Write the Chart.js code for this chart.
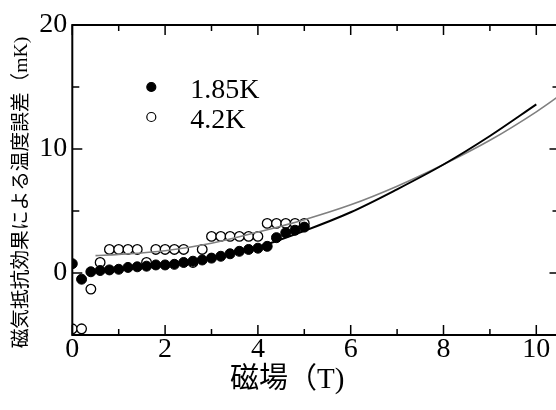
<!DOCTYPE html>
<html>
<head>
<meta charset="utf-8">
<script src="https://cdn.jsdelivr.net/npm/chart.js@4.4.0/dist/chart.umd.min.js"></script>
<style>
  html, body { margin: 0; padding: 0; background: #fff; overflow: hidden; }
  #wrap { width: 570px; height: 410px; }
</style>
</head>
<body>
<div id="wrap"><canvas id="chart" width="570" height="410"></canvas></div>
<script>
// measured points (field in T, error in mK)
const fieldT = [0, 0.2, 0.4, 0.6, 0.8, 1.0, 1.2, 1.4, 1.6, 1.8, 2.0, 2.2, 2.4,
                2.6, 2.8, 3.0, 3.2, 3.4, 3.6, 3.8, 4.0, 4.2, 4.4, 4.6, 4.8, 5.0];
const err185 = [0.75, -0.5, 0.1, 0.2, 0.25, 0.3, 0.45, 0.5, 0.55, 0.65, 0.65, 0.7, 0.85,
                0.95, 1.05, 1.2, 1.35, 1.55, 1.75, 1.9, 2.0, 2.15, 2.85, 3.25, 3.45, 3.7];
const err42 = [-4.5, -4.5, -1.3, 0.85, 1.9, 1.9, 1.9, 1.9, 0.85, 1.9, 1.9, 1.9, 1.9,
               0.85, 1.9, 2.95, 2.95, 2.95, 2.95, 2.95, 2.95, 4.0, 4.0, 4.0, 4.0, 4.0];

// fitted curves
const fitT185 = [0.3, 1, 2, 3, 4, 5, 6, 7, 8, 9, 10];
const fit185 = [0, 0.25, 0.65, 1.25, 2.1, 3.4, 4.9, 6.75, 8.75, 11.05, 13.6];
const fitT42 = [0.5, 1, 2, 3, 4, 5, 6, 7, 8, 9, 10, 10.5];
const fit42 = [1.4, 1.5, 1.8, 2.4, 3.3, 4.3, 5.5, 7.0, 8.75, 10.7, 13.0, 14.3];

const xTicks = [0, 2, 4, 6, 8, 10];
const yTicks = [0, 10, 20];
const xTitle = '磁場（T)';
const yTitle = '磁気抵抗効果による温度誤差（mK)';

const serif = '"Liberation Serif", "Times New Roman", "Noto Sans CJK JP", serif';

const toXY = (xs, ys) => xs.map((x, i) => ({ x: x, y: ys[i] }));

// frame with inward ticks on all four sides, plus axis titles
const frameTicks = {
    id: 'frameTicks',
    afterDatasetsDraw(chart) {
        const { ctx, chartArea: a, scales: { x, y } } = chart;
        ctx.save();
        ctx.strokeStyle = '#000';
        ctx.lineWidth = 2;
        ctx.strokeRect(a.left, a.top, a.right - a.left, a.bottom - a.top);
        ctx.lineWidth = 1.5;
        ctx.beginPath();
        for (let v = 0; v <= 10; v++) {
            const px = x.getPixelForValue(v);
            const len = xTicks.includes(v) ? 10 : 6;
            ctx.moveTo(px, a.bottom); ctx.lineTo(px, a.bottom - len);
            ctx.moveTo(px, a.top); ctx.lineTo(px, a.top + len);
        }
        for (let v = -5; v <= 20; v += 5) {
            const py = y.getPixelForValue(v);
            const len = yTicks.includes(v) ? 10 : 7;
            ctx.moveTo(a.left, py); ctx.lineTo(a.left + len, py);
            ctx.moveTo(a.right, py); ctx.lineTo(a.right - len, py);
        }
        ctx.stroke();

        ctx.fillStyle = '#000';
        ctx.textAlign = 'center';
        ctx.textBaseline = 'middle';
        ctx.font = '29px ' + serif;
        ctx.fillText(xTitle, a.left + 215, 380);
        ctx.translate(22, a.top + 167.5);
        ctx.rotate(-Math.PI / 2);
        ctx.font = '19.7px ' + serif;
        ctx.fillText(yTitle, 0, 0);
        ctx.restore();
    }
};

// legend drawn inside the plot
const innerLegend = {
    id: 'innerLegend',
    afterDraw(chart) {
        const { ctx, chartArea: a } = chart;
        const items = [chart.data.datasets[2], chart.data.datasets[3]];
        ctx.save();
        ctx.font = '28px ' + serif;
        ctx.textBaseline = 'alphabetic';
        items.forEach((ds, i) => {
            const cx = a.left + 79;
            const cy = a.top + 62 + i * 30;
            ctx.beginPath();
            ctx.arc(cx, cy, 4.5, 0, Math.PI * 2);
            ctx.fillStyle = ds.backgroundColor;
            ctx.fill();
            ctx.lineWidth = 1.2;
            ctx.strokeStyle = '#000';
            ctx.stroke();
            ctx.fillStyle = '#000';
            ctx.fillText(ds.label, cx + 39, cy + 11);
        });
        ctx.restore();
    }
};

new Chart(document.getElementById('chart'), {
    type: 'scatter',
    data: {
        datasets: [
            {
                label: '1.85K fit',
                data: toXY(fitT185, fit185),
                showLine: true,
                borderColor: '#000',
                borderWidth: 2,
                pointRadius: 0,
                cubicInterpolationMode: 'monotone'
            },
            {
                label: '4.2K fit',
                data: toXY(fitT42, fit42),
                showLine: true,
                borderColor: '#808080',
                borderWidth: 1.6,
                pointRadius: 0,
                cubicInterpolationMode: 'monotone'
            },
            {
                label: '1.85K',
                data: toXY(fieldT, err185),
                backgroundColor: '#000',
                borderColor: '#000',
                borderWidth: 1,
                pointRadius: 5
            },
            {
                label: '4.2K',
                data: toXY(fieldT, err42),
                backgroundColor: '#fff',
                borderColor: '#000',
                borderWidth: 1.3,
                pointRadius: 4.8
            }
        ]
    },
    options: {
        responsive: false,
        animation: false,
        layout: { padding: { top: 25, right: 10.5, left: 0, bottom: 0 } },
        plugins: { legend: { display: false }, tooltip: { enabled: false } },
        scales: {
            x: {
                type: 'linear',
                min: 0,
                max: 10.5,
                grid: { display: false, drawTicks: false },
                border: { display: false },
                afterBuildTicks: s => { s.ticks = xTicks.map(v => ({ value: v })); },
                ticks: {
                    padding: -2,
                    autoSkip: false,
                    color: '#000',
                    font: { family: serif, size: 28 },
                    maxRotation: 0
                },
                afterFit: s => { s.height = 75; }
            },
            y: {
                type: 'linear',
                min: -5,
                max: 20,
                grid: { display: false, drawTicks: false },
                border: { display: false },
                afterBuildTicks: s => { s.ticks = yTicks.map(v => ({ value: v })); },
                ticks: {
                    padding: 5,
                    autoSkip: false,
                    color: '#000',
                    font: { family: serif, size: 28 }
                },
                afterFit: s => { s.width = 72.3; }
            }
        }
    },
    plugins: [frameTicks, innerLegend]
});
</script>
</body>
</html>
